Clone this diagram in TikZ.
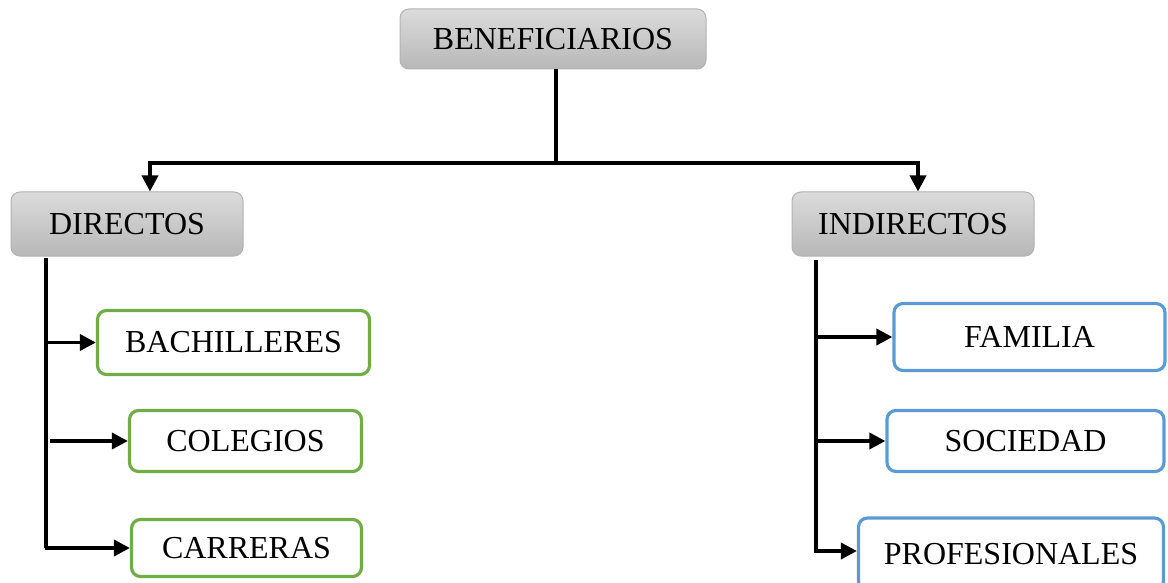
\documentclass[tikz,border=0pt]{standalone}
\usepackage{fontspec}
\setmainfont{Liberation Serif}
\usetikzlibrary{
    arrows.meta,
    positioning
}
\definecolor{leafgreen}{HTML}{70AD47}
\definecolor{leafblue}{HTML}{5B9BD5}
\tikzset{headbox/.style={
    draw=black!30,
    line width=1pt,
    top color=black!14,
    bottom color=black!28,
    rounded corners=9pt
}}
\tikzset{greenbox/.style={
    draw=leafgreen,
    line width=3.2pt,
    rounded corners=9pt
}}
\tikzset{bluebox/.style={
    draw=leafblue,
    line width=3.2pt,
    rounded corners=9pt
}}
\tikzset{trunk/.style={line width=3.6pt}}
\tikzset{arrow/.style={line width=3.6pt,-{Triangle[length=16pt,width=16pt]}}}

\begin{document}
\begin{tikzpicture}[
            x=1pt, y=-1pt,
            align=center,
            inner sep=0pt,
            font=\fontsize{32}{36}\selectfont,
    ]
        \useasboundingbox (0,0) rectangle (1168,583);

        \node[headbox, minimum width=306pt, minimum height=60pt]
            (benef) at (553,39)
            {\raisebox{-2pt}{BENEFICIARIOS}};

        \node[headbox, minimum width=232pt, minimum height=64pt]
            (directos) at (127,224)
            {\raisebox{-1.5pt}{DIRECTOS}};

        \node[headbox, minimum width=242pt, minimum height=64pt]
            (indirectos) at (913,224)
            {\raisebox{-1.5pt}{INDIRECTOS}};

        \node[greenbox, minimum width=272pt, minimum height=64pt]
            (bachilleres) at (233.5,342.5)
            {BACHILLERES};

        \node[greenbox, minimum width=232pt, minimum height=61pt]
            (colegios) at (245.5,441)
            {COLEGIOS};

        \node[greenbox, minimum width=230pt, minimum height=57pt]
            (carreras) at (246.5,548)
            {CARRERAS};

        \node[bluebox, minimum width=271pt, minimum height=67pt]
            (familia) at (1029.5,337)
            {FAMILIA};

        \node[bluebox, minimum width=277pt, minimum height=61pt]
            (sociedad) at (1025.5,441)
            {SOCIEDAD};

        \node[bluebox, minimum width=305pt, minimum height=72pt]
            (profesionales) at (1011,554)
            {PROFESIONALES};

        \coordinate (split) at (556,163);
        \coordinate (left-top) at (46,258);
        \coordinate (right-top) at (816,260);

        \draw[trunk] (benef.south -| split) -- (split);
        \draw[arrow] (split) -| ([xshift=23pt]directos.north);
        \draw[arrow] (split) -| ([xshift=5pt]indirectos.north);

        \draw[trunk] (left-top) -- (left-top |- carreras.west);
        \draw[arrow] (left-top |- bachilleres.west) -- (bachilleres.west);
        \draw[arrow] ([xshift=4pt]left-top |- colegios.west) -- (colegios.west);
        \draw[arrow] ([xshift=-1.5pt]left-top |- carreras.west) -- (carreras.west);

        \draw[trunk] (right-top) -- ([yshift=1.5pt]right-top |- profesionales.west);
        \draw[arrow] (right-top |- familia.west) -- (familia.west);
        \draw[arrow] (right-top |- sociedad.west) -- (sociedad.west);
        \draw[arrow] ([xshift=-1.5pt,yshift=3pt]right-top |- profesionales.west) -- ([yshift=3pt]profesionales.west);

    \end{tikzpicture}
\end{document}
